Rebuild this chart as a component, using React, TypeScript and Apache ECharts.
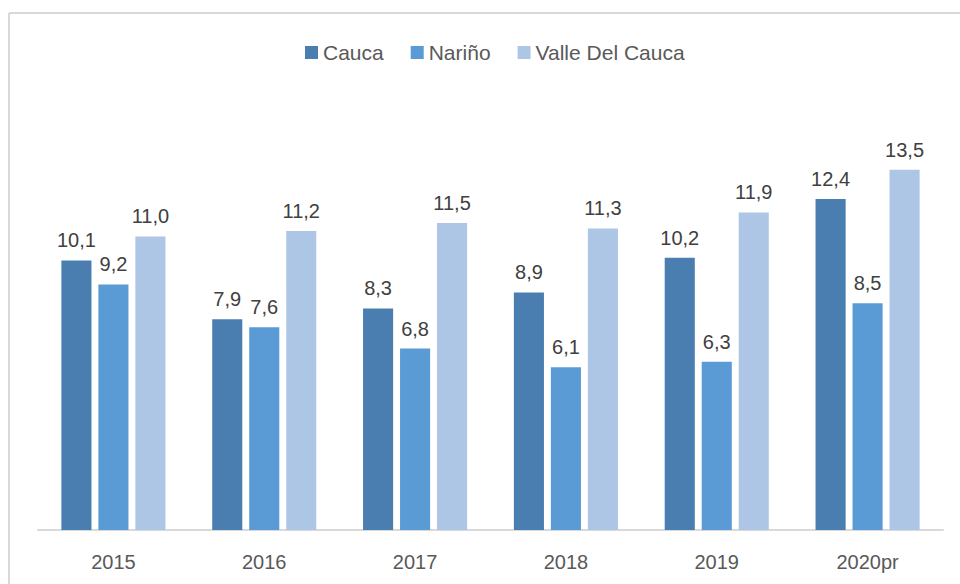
import React, { useEffect, useRef } from "react";
import * as echarts from "echarts";

const categories = ["2015", "2016", "2017", "2018", "2019", "2020pr"];
const cauca = [10.1, 7.9, 8.3, 8.9, 10.2, 12.4];
const narino = [9.2, 7.6, 6.8, 6.1, 6.3, 8.5];
const valle = [11.0, 11.2, 11.5, 11.3, 11.9, 13.5];
const seriesNames = ["Cauca", "Nariño", "Valle Del Cauca"];
const colors = ["#4a7eb0", "#5b9bd5", "#adc6e6"];

const FONT = "'Liberation Sans', Arial, sans-serif";

export default function App() {
  const ref = useRef<HTMLDivElement>(null);
  useEffect(() => {
    if (!ref.current) return;
    const chart = echarts.init(ref.current, null, { renderer: "svg" });
    const data = [cauca, narino, valle];
    chart.setOption({
      animation: false,
      backgroundColor: "#ffffff",
      textStyle: { fontFamily: FONT },
      graphic: [
        { type: "line", shape: { x1: 9, y1: 13, x2: 960, y2: 13 }, style: { stroke: "#d9d9d9", lineWidth: 2 } },
        { type: "line", shape: { x1: 9, y1: 13, x2: 9, y2: 584 }, style: { stroke: "#d9d9d9", lineWidth: 2 } },
      ],
      legend: {
        top: 37,
        left: 300,
        itemWidth: 13,
        itemHeight: 13,
        itemGap: 27,
        icon: "rect",
        textStyle: { fontSize: 21, color: "#595959", fontFamily: FONT },
        data: seriesNames,
      },
      grid: { left: 38, right: 17, top: 103, bottom: 54 },
      xAxis: {
        type: "category",
        data: categories,
        axisLine: { lineStyle: { color: "#d9d9d9", width: 2 } },
        axisTick: { show: false },
        axisLabel: { fontSize: 20, color: "#595959", margin: 22, fontFamily: FONT },
      },
      yAxis: { type: "value", min: 0, max: 16, show: false, splitLine: { show: false } },
      series: seriesNames.map((name, i) => ({
        name,
        type: "bar",
        data: data[i],
        barGap: "23%",
        barCategoryGap: "31%",
        itemStyle: { color: colors[i] },
        label: {
          show: true,
          position: "top",
          distance: 10,
          fontSize: 20,
          color: "#404040",
          fontFamily: FONT,
          formatter: (p: any) => p.value.toFixed(1).replace(".", ","),
        },
      })),
    });
    return () => chart.dispose();
  }, []);
  return <div ref={ref} style={{ position: "fixed", left: 0, top: 0, width: 960, height: 584 }} />;
}
